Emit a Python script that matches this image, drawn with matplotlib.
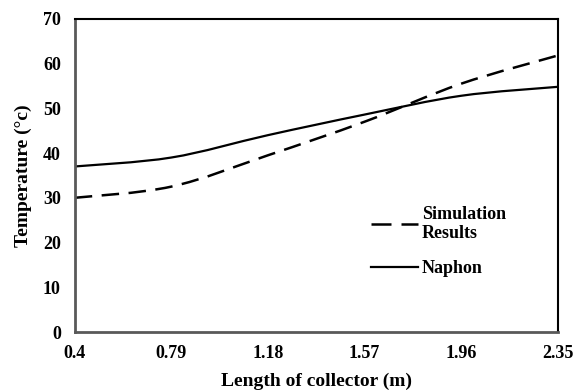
import matplotlib.pyplot as plt
import numpy as np
from matplotlib.path import Path
from matplotlib.patches import PathPatch
from matplotlib.lines import Line2D

plt.rcParams['font.family'] = ['Liberation Serif', 'DejaVu Serif']
plt.rcParams['font.weight'] = 'bold'

length = [0.4, 0.79, 1.18, 1.57, 1.96, 2.35]
simulation = [30.0, 32.5, 39.5, 47.0, 55.5, 61.8]
naphon = [37.0, 39.0, 44.0, 48.6, 52.8, 54.8]


def smooth_path(x, y):
    # Excel-like smoothed line: cubic Bezier through the points
    pts = np.column_stack([x, y])
    n = len(pts)
    verts = [pts[0]]
    codes = [Path.MOVETO]
    for i in range(n - 1):
        p0 = pts[i - 1] if i > 0 else pts[i]
        p1 = pts[i]
        p2 = pts[i + 1]
        p3 = pts[i + 2] if i + 2 < n else pts[i + 1]
        c1 = p1 + (p2 - p0) / 6
        c2 = p2 - (p3 - p1) / 6
        verts += [c1, c2, p2]
        codes += [Path.CURVE4] * 3
    return Path(verts, codes)


dash = (0, (7, 3.8))

fig = plt.figure(figsize=(5.75, 3.92), dpi=100)
ax = fig.add_axes([0.130, 0.153, 0.840, 0.799])

ax.add_patch(PathPatch(smooth_path(length, simulation), fill=False, color='black',
                       lw=1.8, linestyle=dash))
ax.add_patch(PathPatch(smooth_path(length, naphon), fill=False, color='black', lw=1.6))

ax.set_xlim(0.4, 2.35)
ax.set_ylim(0, 70)
ax.set_xticks(length)
ax.set_xticklabels(['0.4', '0.79', '1.18', '1.57', '1.96', '2.35'])
ax.set_yticks(range(0, 71, 10))
ax.tick_params(length=0, labelsize=13)
ax.tick_params(axis='x', pad=9)
ax.tick_params(axis='y', pad=10)
for lab in ax.get_xticklabels() + ax.get_yticklabels():
    lab.set_fontweight('bold')

for s in ['left', 'bottom']:
    ax.spines[s].set_color('#595959')
    ax.spines[s].set_linewidth(2)
for s in ['top', 'right']:
    ax.spines[s].set_color('black')
    ax.spines[s].set_linewidth(1.5)

ax.set_xlabel('Length of collector (m)', fontsize=14, fontweight='bold', labelpad=8)
ax.set_ylabel('Temperature (°c)', fontsize=14, fontweight='bold', labelpad=8)

handles = [Line2D([], [], color='black', lw=1.8, linestyle=(0, (8, 4))),
           Line2D([], [], color='black', lw=1.6)]
ax.legend(handles, ['Simulation\nResults', 'Naphon'], frameon=False,
          loc='upper left', bbox_to_anchor=(0.58, 0.455),
          handlelength=2.6, handletextpad=0.2, labelspacing=1.0,
          prop={'weight': 'bold', 'size': 13})

plt.savefig('out.png', dpi=100)
